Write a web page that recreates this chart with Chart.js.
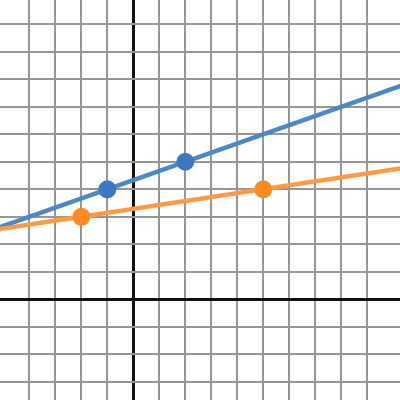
<!DOCTYPE html>
<html>
<head>
<meta charset="utf-8">
<script src="https://cdn.jsdelivr.net/npm/chart.js@4"></script>
<style>
html,body{margin:0;padding:0;background:#fff;}
#wrap{width:400px;height:400px;}
</style>
</head>
<body>
<div id="wrap"><canvas id="c" width="400" height="400"></canvas></div>
<script>
// Axis ranges
const xRange = [-5.13, 10.26];
const yRange = [-3.66, 10.88];

// Blue series: marked points and the line through them (extended to the edges)
const bluePoints = [{x: -1, y: 4}, {x: 2, y: 5}];
const blueLine = [{x: -6, y: 2.33}, {x: 11, y: 8}];

// Orange series
const orangePoints = [{x: -2, y: 3}, {x: 5, y: 4}];
const orangeLine = [{x: -6, y: 2.43}, {x: 11, y: 4.86}];

const gridColor = (ctx) => {
  const v = ctx.tick ? ctx.tick.value : null;
  if (v === 0) return '#111111';
  if (v !== null && Math.abs(v - Math.round(v)) < 1e-6) return '#969696';
  return 'rgba(0,0,0,0)';
};
const gridWidth = (ctx) => (ctx.tick && ctx.tick.value === 0) ? 3 : 2;

const axis = (r) => ({
  type: 'linear',
  min: r[0], max: r[1],
  ticks: {display: false, stepSize: 1, autoSkip: false},
  grid: {color: gridColor, lineWidth: gridWidth, drawTicks: false, tickLength: 0},
  border: {display: false},
  afterFit: (s) => { if (s.isHorizontal()) s.height = 0; else s.width = 0; s.paddingLeft = s.paddingRight = s.paddingTop = s.paddingBottom = 0; }
});

new Chart(document.getElementById('c'), {
  type: 'scatter',
  data: {
    datasets: [
      {type: 'line', data: blueLine, borderColor: '#4d88c6', borderWidth: 4.5, pointRadius: 0, fill: false, order: 4},
      {type: 'line', data: orangeLine, borderColor: '#ff9a44', borderWidth: 4.5, pointRadius: 0, fill: false, order: 3},
      {data: bluePoints, backgroundColor: '#3b78bf', borderWidth: 0, pointRadius: 9, order: 2},
      {data: orangePoints, backgroundColor: '#ff8a22', borderWidth: 0, pointRadius: 9, order: 1}
    ]
  },
  options: {
    responsive: false,
    animation: false,
    layout: {padding: 0, autoPadding: false},
    plugins: {legend: {display: false}, tooltip: {enabled: false}},
    scales: {x: axis(xRange), y: axis(yRange)}
  }
});
</script>
</body>
</html>
